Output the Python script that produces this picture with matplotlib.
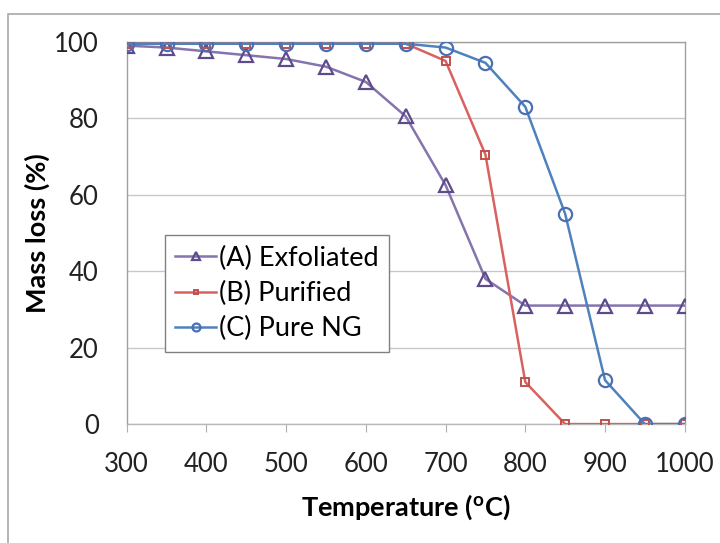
import matplotlib
matplotlib.use('Agg')
import matplotlib.pyplot as plt
from matplotlib.patches import Rectangle

plt.rcParams['font.family'] = ['Lato', 'DejaVu Sans']

# temperatures (oC)
temps = [300, 350, 400, 450, 500, 550, 600, 650, 700, 750, 800, 850, 900, 950, 1000]

# mass loss (%)
exfoliated = [99, 98.5, 97.5, 96.5, 95.5, 93.5, 89.5, 80.5, 62.5, 38, 31, 31, 31, 31, 31]
purified = [99.5, 99.5, 99.5, 99.5, 99.5, 99.5, 99.5, 99.5, 95, 70.5, 11, 0, 0, 0, 0]
pure_ng = [99.5, 99.5, 99.5, 99.5, 99.5, 99.5, 99.5, 99.5, 98.5, 94.5, 83, 55, 11.5, 0, 0]

xticks = [300, 400, 500, 600, 700, 800, 900, 1000]
yticks = [0, 20, 40, 60, 80, 100]

fig = plt.figure(figsize=(7.2, 5.43), dpi=100)
ax = fig.add_axes([0.176, 0.219, 0.775, 0.704])

# chart area frame (runs off the right and bottom edges)
fig.patches.append(Rectangle((0.011, -0.05), 1.05, 1.024, transform=fig.transFigure,
                             fill=False, edgecolor='#a8a8a8', linewidth=1.2))

ax.plot(temps, exfoliated, color='#8574AD', marker='^', markersize=9.5, mfc='none',
        mec='#5F4B8B', mew=1.6, linewidth=1.8, label='(A) Exfoliated', zorder=3)
ax.plot(temps, purified, color='#D9625E', marker='s', markersize=6, mfc='none',
        mec='#C0504D', mew=1.4, linewidth=1.8, label='(B) Purified', zorder=3)
ax.plot(temps, pure_ng, color='#4F81BD', marker='o', markersize=9.5, mfc='none',
        mec='#4A6FB5', mew=1.6, linewidth=1.8, label='(C) Pure NG', zorder=3)

ax.set_xlim(300, 1000)
ax.set_ylim(0, 100)
ax.set_xticks(xticks)
ax.set_yticks(yticks)
ax.grid(axis='y', color='#c8c8c8', linewidth=1)
ax.set_axisbelow(True)
for s in ax.spines.values():
    s.set_color('#a0a0a0')
    s.set_linewidth(1)
ax.spines['bottom'].set_color('#b8b8b8')
ax.tick_params(axis='x', direction='out', length=6, color='#b0b0b0', labelsize=18.5, pad=14)
ax.tick_params(axis='y', length=0, labelsize=18.5, pad=20)
for lab in ax.get_xticklabels() + ax.get_yticklabels():
    lab.set_color('#222222')

ax.set_xlabel('Temperature ($\\mathregular{^o}$C)', fontsize=19.5, fontweight='bold', labelpad=11)
ax.set_ylabel('Mass loss (%)', fontsize=19.5, fontweight='bold', labelpad=3)

leg = ax.legend(loc='lower left', bbox_to_anchor=(0.068, 0.188), borderaxespad=0,
                fontsize=19.5, frameon=True, fancybox=False, edgecolor='#808080',
                framealpha=1, handlelength=1.5, handletextpad=0.1, borderpad=0.4,
                labelspacing=0.38, markerscale=0.6)
leg.get_frame().set_linewidth(1)

fig.savefig('out.png', dpi=100)
